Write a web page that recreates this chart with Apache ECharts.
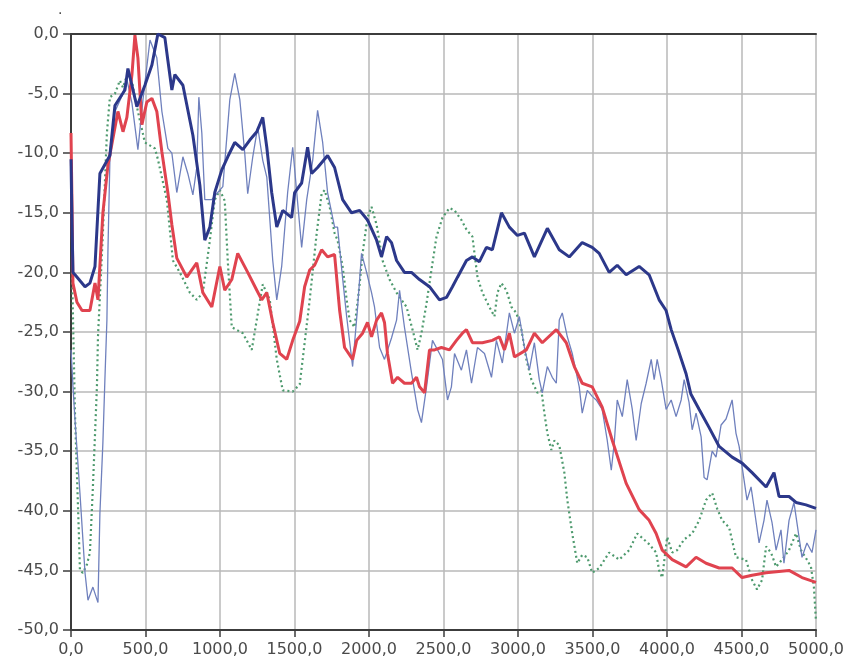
<!DOCTYPE html>
<html>
<head>
<meta charset="utf-8">
<script src="https://cdn.jsdelivr.net/npm/echarts@6/dist/echarts.min.js"></script>
<style>
  html, body { margin: 0; padding: 0; background: #ffffff; }
  #chart { width: 847px; height: 668px; }
</style>
</head>
<body>
<div id="chart"></div>
<script>
// Axis ranges and tick spacing
const xRange = [0, 5000];
const xStep = 500;
const yRange = [-50, 0];
const yStep = 5;

// Level curves as [frequency, level] pairs
const thickBlue = [
  [0,-10.5],[7,-16],[13,-20],[27,-20.2],[94,-21.2],[127,-20.9],[161,-19.5],[194,-11.7],
  [261,-10.2],[295,-6.0],[362,-4.7],[382,-2.9],[409,-4.3],[442,-6.1],[496,-4.3],[543,-2.6],
  [583,0],[630,-0.3],[650,-2.2],[677,-4.7],[697,-3.4],[751,-4.3],[818,-8.5],[865,-12.7],
  [898,-17.3],[932,-16.2],[965,-13.3],[1012,-11.4],[1052,-10.3],[1099,-9.1],[1153,-9.7],
  [1200,-8.9],[1247,-8.2],[1287,-7.0],[1314,-9.5],[1347,-13.3],[1381,-16.2],[1421,-14.8],
  [1481,-15.4],[1501,-13.3],[1548,-12.5],[1588,-9.5],[1615,-11.7],[1655,-11.2],[1722,-10.2],
  [1769,-11.2],[1823,-13.9],[1883,-15.0],[1937,-14.8],[1990,-15.6],[2051,-17.3],[2084,-18.7],
  [2118,-17.0],[2151,-17.5],[2185,-19.0],[2238,-20.0],[2285,-20.0],[2339,-20.6],[2406,-21.2],
  [2473,-22.3],[2520,-22.1],[2560,-21.2],[2594,-20.4],[2654,-19.0],[2694,-18.7],[2741,-19.1],
  [2788,-17.9],[2828,-18.1],[2889,-15.0],[2942,-16.2],[2996,-16.9],[3043,-16.7],[3110,-18.7],
  [3197,-16.3],[3277,-18.1],[3344,-18.7],[3431,-17.5],[3498,-17.9],[3545,-18.4],[3612,-20.0],
  [3666,-19.4],[3726,-20.2],[3813,-19.5],[3880,-20.2],[3947,-22.3],[3994,-23.2],[4028,-24.8],
  [4075,-26.5],[4128,-28.5],[4160,-30.2],[4216,-31.5],[4282,-33.0],[4350,-34.6],[4437,-35.5],
  [4504,-36.0],[4571,-36.8],[4665,-38.0],[4718,-36.8],[4752,-38.8],[4819,-38.8],[4866,-39.3],
  [4933,-39.5],[5000,-39.8]
];

const thinBlue = [
  [0,-26.5],[13,-29.5],[27,-32.4],[60,-38.5],[94,-45.2],[114,-47.5],[147,-46.4],[181,-47.7],
  [194,-40.2],[214,-34.3],[228,-28.8],[241,-24.0],[248,-18.1],[261,-10.6],[295,-6.5],[342,-5.2],
  [375,-3.8],[409,-5.8],[449,-9.7],[483,-5.5],[530,-0.5],[576,-2.0],[610,-6.5],[650,-9.6],
  [677,-10.0],[710,-13.3],[751,-10.3],[784,-11.7],[818,-13.5],[844,-11.2],[858,-5.3],[878,-8.3],
  [898,-13.9],[945,-13.9],[978,-13.4],[1019,-12.8],[1066,-5.5],[1099,-3.3],[1133,-5.5],
  [1166,-10.0],[1186,-13.4],[1220,-10.3],[1253,-7.8],[1287,-10.6],[1314,-12.0],[1354,-19.0],
  [1381,-22.3],[1414,-19.5],[1454,-13.3],[1488,-9.5],[1515,-13.3],[1548,-17.9],[1582,-13.9],
  [1622,-10.6],[1655,-6.4],[1689,-9.1],[1722,-13.3],[1769,-16.2],[1789,-16.2],[1823,-20.5],
  [1850,-23.7],[1890,-27.9],[1923,-23.0],[1950,-18.4],[1984,-20.0],[2017,-21.7],[2037,-22.9],
  [2071,-26.3],[2104,-27.3],[2151,-25.5],[2185,-24.0],[2205,-21.5],[2238,-24.6],[2285,-28.4],
  [2326,-31.5],[2352,-32.6],[2386,-29.6],[2426,-25.7],[2473,-26.8],[2493,-27.3],[2527,-30.7],
  [2553,-29.6],[2574,-26.8],[2620,-28.2],[2654,-26.5],[2688,-29.3],[2728,-26.3],[2775,-26.8],
  [2822,-28.8],[2855,-25.7],[2895,-27.6],[2942,-23.4],[2976,-25.1],[3009,-23.7],[3043,-26.3],
  [3076,-28.2],[3110,-25.9],[3143,-29.0],[3163,-30.1],[3197,-27.9],[3230,-28.8],[3257,-29.3],
  [3277,-24.0],[3297,-23.4],[3331,-25.4],[3364,-26.8],[3411,-29.6],[3431,-31.8],[3465,-29.9],
  [3498,-30.4],[3525,-30.7],[3565,-31.5],[3599,-34.1],[3626,-36.6],[3646,-34.3],[3666,-30.7],
  [3700,-32.1],[3733,-29.0],[3767,-31.5],[3793,-34.1],[3827,-31.0],[3860,-29.3],[3894,-27.3],
  [3914,-29.0],[3934,-27.3],[3961,-29.0],[3994,-31.5],[4028,-30.7],[4061,-32.1],[4095,-30.7],
  [4115,-29.0],[4148,-30.9],[4169,-33.2],[4195,-31.8],[4229,-33.8],[4249,-37.2],[4269,-37.4],
  [4303,-35.0],[4329,-35.5],[4363,-32.8],[4396,-32.3],[4437,-30.7],[4463,-33.5],[4484,-34.6],
  [4517,-37.4],[4537,-39.1],[4564,-38.0],[4584,-39.7],[4618,-42.7],[4651,-40.8],[4671,-39.1],
  [4705,-41.0],[4732,-43.3],[4765,-41.6],[4785,-44.4],[4819,-40.8],[4852,-39.3],[4886,-42.2],
  [4906,-43.9],[4939,-42.7],[4973,-43.5],[5000,-41.6]
];

const redCurve = [
  [0,-8.3],[7,-14.5],[13,-20.9],[40,-22.5],[74,-23.2],[127,-23.2],[161,-20.9],[181,-22.3],
  [214,-15.0],[248,-11.0],[315,-6.5],[349,-8.2],[375,-7.0],[409,-3.4],[429,-0.1],[449,-2.0],
  [476,-7.6],[509,-5.7],[543,-5.4],[576,-6.5],[610,-9.9],[650,-13.3],[677,-16.0],[710,-18.8],
  [777,-20.4],[844,-19.2],[885,-21.7],[945,-22.9],[999,-19.5],[1032,-21.5],[1079,-20.6],
  [1119,-18.4],[1186,-20.0],[1247,-21.5],[1280,-22.3],[1314,-21.7],[1354,-24.2],[1401,-26.8],
  [1448,-27.3],[1488,-25.7],[1535,-24.1],[1568,-21.2],[1602,-19.8],[1635,-19.4],[1682,-18.1],
  [1722,-18.7],[1769,-18.5],[1803,-23.2],[1836,-26.3],[1890,-27.3],[1917,-25.7],[1957,-25.1],
  [1990,-24.2],[2017,-25.4],[2051,-24.0],[2084,-23.4],[2104,-24.2],[2124,-26.8],[2158,-29.3],
  [2192,-28.8],[2238,-29.3],[2285,-29.3],[2319,-28.8],[2339,-29.6],[2373,-30.1],[2406,-26.5],
  [2440,-26.5],[2486,-26.3],[2540,-26.5],[2587,-25.7],[2627,-25.1],[2654,-24.8],[2694,-25.9],
  [2761,-25.9],[2828,-25.7],[2875,-25.4],[2909,-26.5],[2942,-25.1],[2976,-27.1],[3056,-26.5],
  [3110,-25.1],[3163,-25.9],[3257,-24.8],[3324,-25.9],[3378,-27.9],[3431,-29.3],[3498,-29.6],
  [3565,-31.3],[3633,-34.1],[3726,-37.7],[3813,-39.9],[3880,-40.8],[3927,-41.9],[3968,-43.3],
  [4035,-44.1],[4128,-44.7],[4195,-43.9],[4262,-44.4],[4350,-44.8],[4437,-44.8],[4504,-45.6],
  [4571,-45.4],[4665,-45.2],[4819,-45.0],[4906,-45.6],[5000,-46.0]
];

const greenDotted = [
  [7,-20.0],[27,-32.0],[53,-42.0],[60,-45.0],[80,-45.2],[107,-44.5],[127,-43.5],[147,-38.0],
  [174,-29.6],[181,-25.4],[194,-22.0],[214,-16.7],[241,-8.3],[261,-5.3],[295,-5.0],[328,-3.9],
  [349,-4.5],[375,-3.5],[409,-4.0],[449,-6.5],[496,-9.1],[563,-9.6],[583,-10.5],[643,-13.9],
  [684,-19.0],[730,-20.0],[798,-21.7],[844,-22.3],[885,-21.7],[932,-17.3],[965,-13.9],
  [999,-13.1],[1032,-14.0],[1052,-19.0],[1079,-24.6],[1153,-25.1],[1213,-26.5],[1253,-23.5],
  [1287,-21.0],[1334,-22.3],[1381,-27.3],[1421,-29.9],[1488,-30.0],[1535,-29.4],[1602,-22.3],
  [1649,-16.7],[1682,-13.4],[1702,-13.1],[1736,-14.5],[1769,-16.7],[1789,-17.3],[1823,-19.5],
  [1850,-22.3],[1870,-24.0],[1903,-24.6],[1937,-21.0],[1957,-18.4],[1990,-15.4],[2017,-14.5],
  [2051,-16.0],[2091,-19.0],[2138,-20.6],[2185,-21.7],[2218,-22.3],[2252,-22.9],[2292,-24.8],
  [2326,-26.5],[2352,-25.1],[2386,-22.6],[2419,-19.8],[2453,-17.0],[2493,-15.4],[2540,-14.6],
  [2574,-14.8],[2620,-15.6],[2654,-16.4],[2694,-17.0],[2728,-20.4],[2761,-21.7],[2808,-22.9],
  [2842,-23.7],[2862,-21.7],[2889,-20.9],[2922,-21.5],[2956,-22.9],[2989,-23.4],[3023,-24.8],
  [3056,-27.3],[3090,-29.0],[3130,-30.1],[3157,-29.9],[3177,-31.8],[3197,-33.5],[3224,-34.9],
  [3244,-34.1],[3277,-34.5],[3311,-36.8],[3331,-39.1],[3364,-41.9],[3398,-44.4],[3431,-43.7],
  [3465,-43.9],[3498,-45.2],[3545,-44.8],[3612,-43.5],[3679,-44.1],[3746,-43.3],[3800,-41.9],
  [3880,-42.8],[3927,-43.5],[3947,-45.0],[3968,-45.6],[4001,-42.2],[4035,-43.5],[4068,-43.3],
  [4115,-42.4],[4169,-41.9],[4216,-40.8],[4262,-39.1],[4303,-38.5],[4336,-39.8],[4370,-40.8],
  [4417,-41.4],[4463,-43.9],[4530,-44.1],[4571,-45.8],[4604,-46.6],[4638,-45.8],[4665,-43.0],
  [4698,-43.5],[4732,-44.7],[4772,-44.1],[4819,-43.3],[4866,-41.9],[4899,-43.3],[4939,-44.1],
  [4966,-44.7],[4986,-46.4],[5000,-49.3]
];

// Tick labels use a decimal comma with one decimal place
const fmt = v => v.toFixed(1).replace('.', ',');

const chart = echarts.init(document.getElementById('chart'), null, { renderer: 'canvas' });

const labelFont = { fontFamily: 'DejaVu Sans', fontSize: 16, color: '#4a4a4a' };

chart.setOption({
  backgroundColor: '#ffffff',
  animation: false,
  grid: { left: 71, right: 30, top: 34, bottom: 38, containLabel: false },
  xAxis: [
    {
      type: 'value', min: xRange[0], max: xRange[1], interval: xStep,
      axisLine: { show: true, onZero: false, lineStyle: { color: '#3c3c3c', width: 2 } },
      axisTick: { show: true, length: 7, lineStyle: { color: '#3c3c3c', width: 1.5 } },
      axisLabel: Object.assign({ formatter: fmt, margin: 12 }, labelFont),
      splitLine: { show: true, lineStyle: { color: '#b8b8b8', width: 1.5 } }
    },
    {
      type: 'value', position: 'top', min: xRange[0], max: xRange[1], interval: xStep,
      axisLine: { show: true, onZero: false, lineStyle: { color: '#3c3c3c', width: 2 } },
      axisTick: { show: false }, axisLabel: { show: false }, splitLine: { show: false }
    }
  ],
  yAxis: {
    type: 'value', min: yRange[0], max: yRange[1], interval: yStep,
    axisLine: { show: true, onZero: false, lineStyle: { color: '#3c3c3c', width: 2 } },
    axisTick: { show: true, length: 8, lineStyle: { color: '#3c3c3c', width: 1.5 } },
    axisLabel: Object.assign({ formatter: fmt, margin: 12 }, labelFont),
    splitLine: { show: true, lineStyle: { color: '#b8b8b8', width: 1.5 } }
  },
  graphic: [
    { type: 'text', left: 58, top: 3, style: { text: '.', fontSize: 14, fill: '#444', fontFamily: 'DejaVu Sans' } }
  ],
  series: [
    {
      type: 'line', data: greenDotted, showSymbol: false, z: 2,
      lineStyle: { color: '#4e9a6e', width: 2.2, type: [2, 3] }
    },
    {
      type: 'line', data: thinBlue, showSymbol: false, z: 3,
      lineStyle: { color: '#6f80bd', width: 1.3 }
    },
    {
      type: 'line', data: redCurve, showSymbol: false, z: 4,
      lineStyle: { color: '#e0434f', width: 3 }
    },
    {
      type: 'line', data: thickBlue, showSymbol: false, z: 5,
      lineStyle: { color: '#2c388a', width: 3 }
    }
  ]
});
</script>
</body>
</html>
